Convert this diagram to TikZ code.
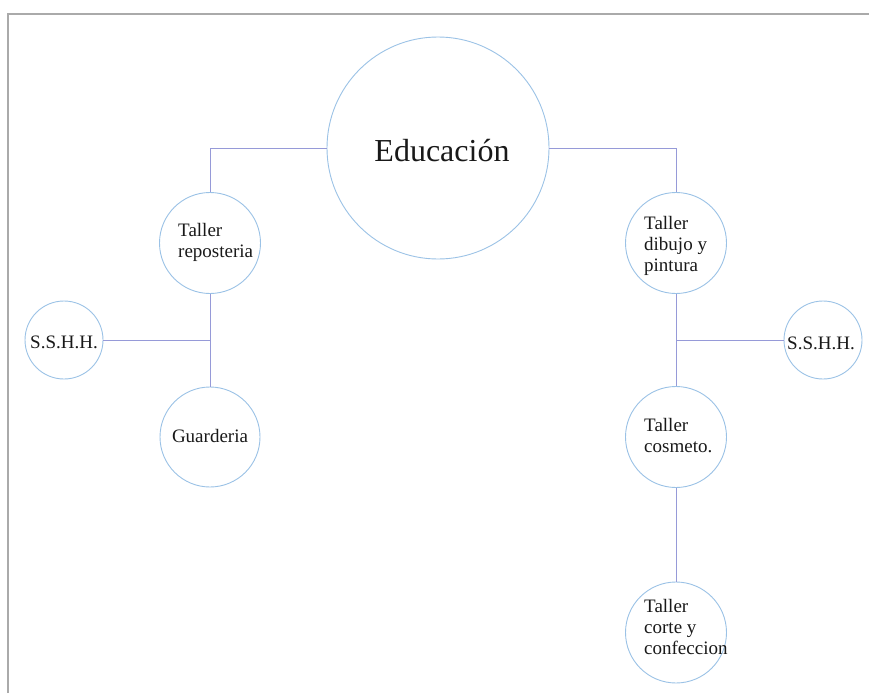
\documentclass[tikz,border=0pt]{standalone}
\usepackage{fontspec}
\setmainfont{Liberation Serif}
\definecolor{circ}{RGB}{155,194,230}
\definecolor{conn}{RGB}{150,154,216}
\definecolor{frame}{RGB}{170,170,170}
\definecolor{ink}{RGB}{25,25,25}
\begin{document}
\begin{tikzpicture}[x=1pt,y=-1pt,
  bubble/.style={circle,draw=circ,line width=0.9pt,inner sep=0pt,fill=white},
  conline/.style={draw=conn,line width=1pt},
  small/.style={font=\fontsize{19}{20.8}\selectfont,text=ink,inner sep=0pt,align=left},
  big/.style={font=\fontsize{32}{36}\selectfont,text=ink,inner sep=0pt}]
\useasboundingbox (0,0) rectangle (869,693);
\draw[frame,line width=1.5pt] (8,693) -- (8,14) -- (869,14);
% circles
\node[bubble,minimum size=222pt] (edu) at (438,148) {};
\node[bubble,minimum size=101pt] (rep) at (210,243) {};
\node[bubble,minimum size=78pt] (sl) at (64,340) {};
\node[bubble,minimum size=100pt] (gua) at (210,437) {};
\node[bubble,minimum size=101pt] (dib) at (676,243) {};
\node[bubble,minimum size=78pt] (sr) at (823,340) {};
\node[bubble,minimum size=101pt] (cos) at (676,437) {};
\node[bubble,minimum size=101pt] (cor) at (676,632.5) {};
% junctions
\coordinate (jl) at (210,340);
\coordinate (jr) at (676,340);
% connectors
\draw[conline] (edu.west) -| (rep.north);
\draw[conline] (edu.east) -| (dib.north);
\draw[conline] (rep.south) -- (gua.north);
\draw[conline] (sl.east) -- (jl);
\draw[conline] (dib.south) -- (cos.north);
\draw[conline] (sr.west) -- (jr);
\draw[conline] (cos.south) -- (cor.north);
% texts (multi-line nodes: base = last line's baseline)
\node[big,anchor=base] (edut) at (442,161) {Educación};
\node[small,anchor=base west] (rept) at (178,257.5) {Taller\\reposteria};
\node[small,anchor=base] (guat) at (210,442) {Guarderia};
\node[small,anchor=base] (slt) at (64,348.3) {S.S.H.H.};
\node[small,anchor=base west] (dibt) at (644,271.5) {Taller\\dibujo y\\pintura};
\node[small,anchor=base] (srt) at (821,349) {S.S.H.H.};
\node[small,anchor=base west] (cost) at (644,452.5) {Taller\\cosmeto.};
\node[small,anchor=base west] (cort) at (644,654) {Taller\\corte y\\confeccion};
\end{tikzpicture}
\end{document}
